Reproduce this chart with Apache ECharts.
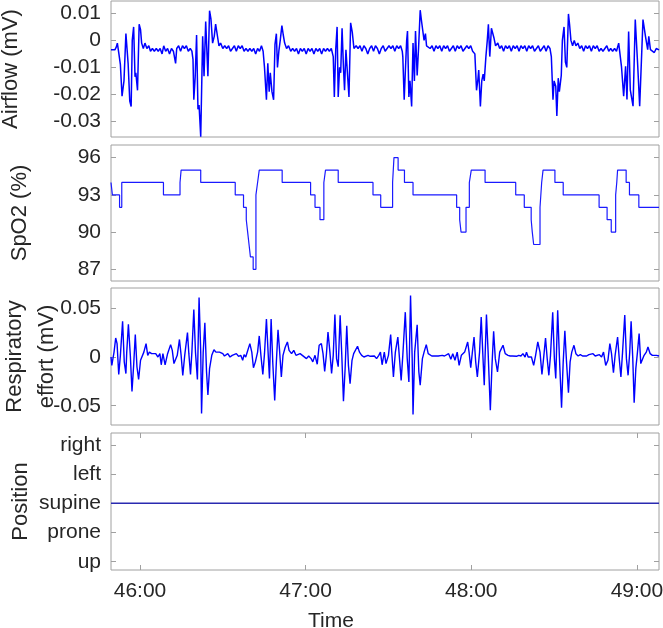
<!DOCTYPE html>
<html><head><meta charset="utf-8">
<script src="https://cdn.jsdelivr.net/npm/echarts@6/dist/echarts.min.js"></script>
<style>html,body{margin:0;padding:0;background:#fff}#c{width:663px;height:628px}</style>
</head><body><div id="c"></div>
<script>
// time in seconds since recording start; values in panel units
const airflow = [
[2749.5,-0.0035],[2750.2,-0.004],[2750.9,-0.0035],[2751.4,-0.0025],[2751.8,-0.001],[2752.3,-0.0045],[2752.9,-0.009],
[2753.5,-0.0207],[2754.2,-0.015],[2754.9,0.0025],[2755.7,-0.0085],[2756.3,-0.0225],[2756.8,-0.0245],[2757.2,0.0],
[2757.7,0.005],[2758.2,-0.0135],[2758.5,-0.012],[2759.1,-0.0185],[2759.7,0.006],[2760.2,0.004],[2760.6,-0.001],
[2761.2,-0.003],[2761.8,-0.001],[2762.5,-0.003],[2763.2,-0.002],[2763.8,-0.004],[2764.5,-0.003],[2765.2,-0.004],
[2765.9,-0.003],[2766.6,-0.004],[2767.3,-0.003],[2768.0,-0.005],[2768.6,-0.002],[2769.3,-0.004],[2770.0,-0.003],
[2770.7,-0.005],[2771.4,-0.003],[2772.1,-0.004],[2772.6,-0.0035],[2772.9,-0.0085],[2773.3,-0.003],[2774.0,-0.002],
[2774.7,-0.004],[2775.4,-0.002],[2776.1,-0.003],[2776.8,-0.002],[2777.5,-0.004],[2778.2,-0.003],[2778.8,-0.004],
[2779.2,-0.007],[2779.5,-0.022],[2780.0,-0.0135],[2780.5,0.002],[2781.0,-0.0255],[2781.4,-0.024],[2782.0,-0.0357],
[2782.7,0.0015],[2783.2,-0.0133],[2783.8,0.007],[2784.6,-0.0133],[2785.2,0.011],[2785.7,0.008],[2786.3,-0.001],
[2786.9,0.0015],[2787.4,0.006],[2788.0,0.002],[2788.6,-0.002],[2789.2,-0.001],[2790.0,-0.003],[2790.7,-0.002],
[2791.4,-0.003],[2792.1,-0.002],[2792.8,-0.004],[2793.5,-0.003],[2794.2,-0.002],[2794.9,-0.004],[2795.6,-0.002],
[2796.3,-0.003],[2797.0,-0.002],[2797.7,-0.004],[2798.4,-0.003],[2799.1,-0.004],[2799.8,-0.003],[2800.5,-0.004],
[2801.2,-0.003],[2801.9,-0.005],[2802.6,-0.003],[2803.3,-0.004],[2804.0,-0.002],[2804.6,-0.004],[2805.1,-0.01],
[2805.8,-0.022],[2806.3,-0.0085],[2806.8,-0.019],[2807.2,-0.012],[2807.8,-0.019],[2808.4,-0.022],[2808.9,-0.0015],
[2809.4,0.0025],[2809.8,-0.01],[2810.3,-0.004],[2810.8,0.0],[2811.4,0.0055],[2811.9,0.002],[2812.4,-0.001],
[2813.1,-0.003],[2813.8,-0.002],[2814.6,-0.004],[2815.3,-0.003],[2816.0,-0.004],[2816.7,-0.003],[2817.4,-0.005],
[2818.1,-0.003],[2818.8,-0.004],[2819.5,-0.003],[2820.2,-0.005],[2820.9,-0.003],[2821.6,-0.004],[2822.3,-0.003],
[2823.0,-0.005],[2823.7,-0.003],[2824.4,-0.004],[2825.1,-0.003],[2825.8,-0.005],[2826.5,-0.003],[2827.2,-0.004],
[2827.9,-0.003],[2828.6,-0.004],[2829.3,-0.003],[2830.0,-0.006],[2830.4,-0.021],[2830.9,-0.0035],[2831.4,0.005],
[2831.8,-0.021],[2832.3,-0.01],[2832.7,-0.012],[2833.2,0.0045],[2833.7,-0.01],[2834.1,-0.0185],[2834.6,-0.0035],
[2835.1,-0.003],[2835.7,-0.021],[2836.3,0.0065],[2836.9,0.003],[2837.5,-0.003],[2838.3,-0.002],[2839.0,-0.003],
[2839.7,-0.002],[2840.4,-0.004],[2841.1,-0.002],[2841.8,-0.003],[2842.5,-0.005],[2843.2,-0.003],[2843.9,-0.002],
[2844.6,-0.004],[2845.3,-0.002],[2846.0,-0.003],[2846.7,-0.005],[2847.4,-0.003],[2848.1,-0.002],[2848.8,-0.004],
[2849.5,-0.003],[2850.2,-0.002],[2850.9,-0.003],[2851.6,-0.002],[2852.3,-0.004],[2853.0,-0.002],[2853.7,-0.003],
[2854.4,-0.002],[2855.0,-0.004],[2855.2,-0.006],[2855.7,-0.022],[2856.1,-0.012],[2856.6,0.0],[2856.9,0.0035],
[2857.4,-0.021],[2857.8,-0.015],[2858.4,-0.0245],[2858.9,-0.001],[2859.4,-0.015],[2859.8,0.0035],[2860.4,-0.013],
[2860.9,-0.003],[2861.5,0.0112],[2862.0,0.007],[2862.4,0.0065],[2862.9,0.0],[2863.4,0.0025],[2863.8,-0.002],
[2864.4,-0.002],[2865.1,-0.003],[2865.8,-0.002],[2866.5,-0.004],[2867.2,-0.002],[2867.9,-0.003],[2868.6,-0.002],
[2869.3,-0.004],[2870.0,-0.002],[2870.7,-0.003],[2871.4,-0.002],[2872.1,-0.004],[2872.8,-0.003],[2873.5,-0.002],
[2874.2,-0.004],[2874.9,-0.002],[2875.6,-0.003],[2876.3,-0.002],[2877.0,-0.004],[2877.7,-0.003],[2878.4,-0.002],
[2879.1,-0.003],[2879.8,-0.002],[2880.5,-0.004],[2881.3,-0.005],[2881.9,-0.0185],[2882.4,-0.0145],[2882.7,-0.011],
[2883.3,-0.0245],[2883.8,-0.015],[2884.3,-0.0125],[2884.7,-0.015],[2885.3,-0.006],[2885.8,0.0],[2886.2,0.006],
[2886.7,-0.006],[2887.3,0.0045],[2887.8,0.0045],[2888.2,0.001],[2888.8,-0.002],[2889.6,-0.001],[2890.3,-0.003],
[2891.0,-0.002],[2891.7,-0.004],[2892.4,-0.002],[2893.1,-0.003],[2893.8,-0.002],[2894.5,-0.004],[2895.2,-0.002],
[2895.9,-0.003],[2896.6,-0.002],[2897.3,-0.004],[2898.0,-0.002],[2898.7,-0.003],[2899.4,-0.002],[2900.1,-0.004],
[2900.8,-0.002],[2901.5,-0.003],[2902.2,-0.002],[2902.9,-0.004],[2903.6,-0.003],[2904.3,-0.002],[2905.0,-0.004],
[2905.7,-0.003],[2906.4,-0.002],[2907.1,-0.004],[2907.8,-0.002],[2908.5,-0.003],[2909.0,-0.006],[2909.6,-0.022],
[2910.0,-0.015],[2910.6,-0.017],[2911.0,-0.028],[2911.5,-0.014],[2911.9,-0.019],[2912.6,-0.013],[2913.0,0.0],
[2913.6,0.005],[2914.1,-0.008],[2914.6,-0.01],[2915.2,0.0098],[2915.6,0.006],[2916.1,0.0],[2916.7,-0.002],
[2917.3,0.0],[2917.9,-0.002],[2918.6,-0.001],[2919.3,-0.003],[2920.0,-0.002],[2920.7,-0.004],[2921.4,-0.002],
[2922.1,-0.003],[2922.8,-0.002],[2923.5,-0.004],[2924.2,-0.002],[2924.9,-0.003],[2925.6,-0.002],[2926.3,-0.004],
[2927.0,-0.003],[2927.7,-0.004],[2928.4,-0.003],[2929.1,-0.002],[2929.8,-0.004],[2930.5,-0.003],[2931.2,-0.004],
[2931.9,-0.003],[2932.6,-0.004],[2933.4,-0.001],[2934.4,-0.0096],[2935.2,-0.0207],[2935.9,-0.0096],[2936.4,-0.0219],
[2937.0,0.0033],[2937.6,-0.0183],[2938.6,-0.0244],[2939.4,0.0077],[2940.3,-0.0096],[2941.0,-0.0244],[2942.2,0.0077],
[2943.1,0.0015],[2943.9,-0.0034],[2944.3,0.0015],[2944.9,-0.0034],[2945.5,-0.003],[2946.3,-0.0045],[2947.0,-0.003],
[2948.0,-0.0035]
];
const spo2 = [
[2749.5,94],[2750.0,93],[2752.6,92],[2753.4,94],[2768.5,93],[2774.5,94],[2774.9,95],[2782.0,94],[2794.5,93],
[2797.5,92],[2798.5,91],[2799.0,90],[2799.5,89],[2800.0,88],[2801.0,87],[2802.0,93],[2802.6,94],[2803.2,95],
[2811.5,94],[2821.8,93],[2823.4,92],[2825.2,91],[2826.6,94],[2827.2,95],[2831.8,94],[2844.4,93],[2847.2,92],
[2851.5,94],[2852.0,96],[2853.5,95],[2855.8,94],[2858.9,93],[2874.7,92],[2875.8,91],[2876.3,90],[2878.1,92],
[2879.3,94],[2880.0,95],[2885.0,94],[2896.1,93],[2899.2,92],[2901.7,91],[2902.1,90],[2902.6,89],[2904.9,92],
[2905.5,94],[2906.0,95],[2910.3,94],[2913.3,93],[2926.3,92],[2929.2,91],[2930.7,90],[2932.3,93],[2932.7,94],
[2933.0,95],[2936.1,94],[2937.3,93],[2940.7,92],[2948.0,92]
];
const effort = [
[2749.5,0.0],[2749.8,-0.0086],[2750.0,-0.005],[2750.6,0.005],[2751.2,0.0195],[2751.7,0.0137],[2752.3,-0.018],
[2752.9,0.0017],[2753.7,0.0366],[2754.3,-0.005],[2754.9,-0.017],[2755.2,0.005],[2755.8,0.0336],[2756.5,0.0017],
[2757.1,-0.0353],[2757.7,-0.0086],[2758.3,0.023],[2758.9,-0.010],[2759.5,-0.023],[2760.2,-0.0034],[2760.8,-0.0024],
[2761.4,0.005],[2762.2,0.0137],[2762.8,0.0017],[2763.4,0.005],[2764.2,0.0034],[2764.9,0.0017],[2765.7,0.0034],
[2766.5,0.0],[2767.2,0.0034],[2767.7,-0.008],[2768.3,0.0034],[2769.1,-0.008],[2770.0,0.0034],[2771.1,0.0127],
[2771.7,0.0068],[2772.3,-0.0068],[2772.9,-0.0086],[2773.5,0.0017],[2774.3,0.018],[2774.9,0.0017],[2775.5,-0.019],
[2776.2,0.0017],[2777.2,0.025],[2777.7,0.0034],[2778.3,-0.018],[2778.8,0.005],[2779.5,0.0486],[2780.1,0.005],
[2780.8,-0.023],[2781.4,0.061],[2782.0,0.005],[2782.3,-0.058],[2782.9,0.005],[2783.5,0.035],[2784.1,-0.015],
[2784.6,-0.039],[2785.2,-0.012],[2786.0,0.0017],[2786.8,0.0075],[2787.5,0.005],[2788.1,0.0068],[2788.8,0.005],
[2789.4,0.0034],[2790.0,0.0034],[2790.6,0.001],[2791.2,0.0],[2791.8,0.0034],[2792.6,0.0],[2793.4,0.0017],
[2794.1,0.0],[2794.9,0.0034],[2795.7,0.0007],[2796.5,0.0017],[2797.2,-0.0034],[2797.7,0.0024],[2798.3,0.0],
[2798.9,0.0007],[2799.8,0.0137],[2800.5,0.005],[2801.1,-0.011],[2801.8,-0.005],[2802.6,0.005],[2803.2,0.0216],
[2803.8,0.0017],[2804.5,-0.018],[2805.1,0.0034],[2805.8,0.039],[2806.4,0.005],[2806.9,-0.022],[2807.5,0.039],
[2808.1,-0.006],[2808.8,-0.0445],[2809.4,-0.005],[2810.0,0.028],[2810.6,0.005],[2811.2,-0.0205],[2811.8,0.0017],
[2812.6,0.010],[2813.4,0.0154],[2814.0,0.0068],[2814.9,0.0034],[2815.7,0.0068],[2816.5,0.0017],[2817.2,0.0017],
[2818.0,0.0034],[2818.8,0.0017],[2819.5,0.0017],[2820.3,-0.0017],[2821.1,0.001],[2822.0,-0.0017],[2822.6,-0.005],
[2823.4,0.0017],[2824.2,-0.0075],[2824.9,0.012],[2825.7,0.0137],[2826.3,0.0034],[2826.9,-0.0147],[2827.5,0.0017],
[2828.1,0.0257],[2828.8,0.005],[2829.4,-0.017],[2830.0,0.0017],[2830.6,0.0435],[2831.2,-0.0017],[2831.8,-0.010],
[2832.5,0.0428],[2833.1,0.0017],[2833.7,-0.0455],[2834.3,-0.012],[2834.9,0.032],[2835.5,-0.0086],[2836.1,-0.0274],
[2836.8,-0.0034],[2837.4,0.0034],[2838.0,0.0017],[2838.8,0.011],[2839.5,0.005],[2840.3,0.0017],[2841.1,0.0],
[2841.8,0.0007],[2842.6,0.0017],[2843.4,0.0007],[2844.1,0.0],[2844.9,0.001],[2845.7,-0.0017],[2846.5,0.0017],
[2847.1,0.005],[2847.7,-0.008],[2848.5,0.005],[2849.1,-0.0068],[2850.0,0.0017],[2850.8,0.023],[2851.2,0.005],
[2851.8,-0.0205],[2852.5,0.005],[2853.4,0.0205],[2854.0,-0.0017],[2854.6,-0.024],[2855.2,0.0017],[2856.1,0.046],
[2856.8,-0.0017],[2857.4,-0.0257],[2858.0,0.063],[2858.6,-0.0017],[2858.9,-0.059],[2859.5,0.005],[2860.4,0.033],
[2861.0,-0.015],[2861.5,-0.029],[2862.3,-0.0017],[2862.9,0.005],[2863.7,0.0127],[2864.4,0.0034],[2865.0,0.0017],
[2865.7,0.001],[2866.4,0.0007],[2867.2,0.001],[2868.0,0.001],[2868.7,0.001],[2869.5,0.0017],[2870.3,0.001],
[2871.0,0.0],[2871.8,0.0034],[2872.6,-0.0024],[2873.3,0.0034],[2874.1,-0.0034],[2874.9,0.005],[2875.6,-0.0086],
[2876.4,0.0017],[2877.6,0.005],[2878.7,0.0154],[2879.2,0.005],[2879.8,-0.011],[2880.4,0.005],[2881.0,0.0205],
[2881.6,-0.005],[2882.2,-0.0205],[2883.0,0.005],[2883.6,0.041],[2884.2,0.0017],[2884.7,-0.029],[2885.0,0.0],
[2885.5,0.0435],[2886.1,0.005],[2886.9,-0.0547],[2887.5,-0.0086],[2888.1,0.0263],[2888.7,-0.0017],[2889.5,-0.0154],
[2890.3,0.005],[2891.5,0.012],[2892.3,0.0034],[2893.3,0.0017],[2894.1,0.001],[2894.9,0.001],[2895.6,0.0017],
[2896.4,0.0007],[2897.2,0.0017],[2898.0,0.001],[2898.7,0.0034],[2899.5,0.0],[2900.0,0.005],[2900.6,0.0],
[2901.0,0.0017],[2901.8,0.0],[2902.6,-0.0086],[2903.3,0.0017],[2904.1,0.0154],[2904.9,0.005],[2905.6,-0.018],
[2906.3,0.0017],[2906.9,0.0195],[2907.5,-0.0017],[2908.1,-0.0188],[2908.7,0.0017],[2909.5,0.046],[2910.1,-0.0017],
[2910.6,-0.022],[2911.3,0.048],[2911.9,0.0017],[2912.7,-0.052],[2913.3,-0.005],[2913.9,0.027],[2914.5,-0.005],
[2915.2,-0.0366],[2915.8,-0.005],[2916.4,0.005],[2917.2,0.012],[2917.9,0.0034],[2918.7,0.001],[2919.5,0.0024],
[2920.3,0.001],[2921.0,0.0017],[2921.8,0.001],[2922.6,0.0024],[2923.3,0.001],[2924.1,0.0034],[2924.9,0.001],
[2925.6,0.0017],[2926.4,0.0024],[2927.2,0.0],[2927.9,0.005],[2928.7,-0.0086],[2929.5,-0.0034],[2930.2,0.0137],
[2930.8,0.0034],[2931.5,-0.016],[2932.1,0.0017],[2933.0,0.0205],[2933.6,-0.0017],[2934.2,-0.0205],[2934.8,0.005],
[2935.6,0.043],[2936.2,-0.0017],[2936.8,-0.0188],[2937.4,0.005],[2937.9,0.0366],[2938.5,-0.0017],[2939.0,-0.0469],
[2939.6,-0.012],[2940.2,0.005],[2940.8,0.024],[2941.4,-0.0068],[2942.0,-0.0086],[2942.6,0.0017],[2943.4,0.005],
[2944.0,0.0103],[2944.8,0.0034],[2945.6,0.0017],[2946.3,0.001],[2947.1,0.0017],[2947.7,0.0007],[2948.0,0.001]
];
const position = [[2749.5,3],[2948.0,3]];

const timeTicks = [2760, 2820, 2880, 2940];
const airflowTicks = [-0.03, -0.02, -0.01, 0, 0.01];
const spo2Ticks = [87, 90, 93, 96];
const effortTicks = [-0.05, 0, 0.05];
const positionTicks = [1, 2, 3, 4, 5];
const positionNames = ['up', 'prone', 'supine', 'left', 'right'];

const FONT = '"Liberation Sans", Arial, Helvetica, sans-serif';
const TXT = '#262626';
const BOX = '#a0a0a0';
const X_MIN = 2749.5, X_MAX = 2948.0;

const grids = [
  {left: 111, right: 4, top: 1, height: 136},
  {left: 111, right: 4, top: 145, height: 136},
  {left: 111, right: 4, top: 288, height: 137},
  {left: 111, right: 4, top: 433, height: 137}
].map(g => Object.assign(g, {show: true, borderColor: BOX, borderWidth: 1, backgroundColor: 'transparent',
  containLabel: false, outerBoundsMode: 'none'}));

function fmtTime(v) {
  const m = Math.floor(v / 60), s = Math.round(v - m * 60);
  return m + ':' + (s < 10 ? '0' : '') + s;
}
function fmtNum(v) { return String(parseFloat(Number(v).toFixed(4))); }

const panels = [
  {name: 'Airflow (mV)', min: -0.0358, max: 0.0146, ticks: airflowTicks, fmt: fmtNum, gap: 85, lh: 30},
  {name: 'SpO2 (%)', min: 86.06, max: 97.02, ticks: spo2Ticks, fmt: fmtNum, gap: 76, lh: 30},
  {name: 'Respiratory\neffort (mV)', min: -0.0698, max: 0.0708, ticks: effortTicks, fmt: fmtNum, gap: 48, lh: 32},
  {name: 'Position', min: 0.716, max: 5.41, ticks: positionTicks, fmt: v => positionNames[Math.round(v) - 1], gap: 75, lh: 30}
];

const xAxis = [], yAxis = [];
panels.forEach((p, i) => {
  const last = i === 3;
  xAxis.push({
    type: 'value', gridIndex: i, min: X_MIN, max: X_MAX, position: 'bottom',
    axisLine: {show: false}, splitLine: {show: false},
    axisTick: {show: last, inside: true, length: 5, lineStyle: {color: BOX}, customValues: timeTicks},
    axisLabel: {show: last, customValues: timeTicks, formatter: fmtTime, color: TXT, fontSize: 21, fontFamily: FONT, margin: 11},
    name: last ? 'Time' : '', nameLocation: 'middle', nameGap: 41, nameMoveOverlap: false,
    nameTextStyle: {color: TXT, fontSize: 21, fontFamily: FONT, padding: [0, 108, 0, 0]}
  });
  yAxis.push({
    type: 'value', gridIndex: i, min: p.min, max: p.max, position: 'left',
    axisLine: {show: false}, splitLine: {show: false},
    axisTick: {show: true, inside: true, length: 5, lineStyle: {color: BOX}, customValues: p.ticks},
    axisLabel: {customValues: p.ticks, formatter: p.fmt, color: TXT, fontSize: 21, fontFamily: FONT, margin: 10},
    name: p.name, nameLocation: 'middle', nameGap: p.gap, nameMoveOverlap: false,
    nameTextStyle: {color: TXT, fontSize: 22, fontFamily: FONT, lineHeight: p.lh}
  });
  yAxis.push({
    type: 'value', gridIndex: i, min: p.min, max: p.max, position: 'right',
    axisLine: {show: false}, splitLine: {show: false},
    axisTick: {show: true, inside: true, length: 5, lineStyle: {color: BOX}, customValues: p.ticks},
    axisLabel: {show: false}
  });
});
// top ticks on the bottom panel
xAxis.push({
  type: 'value', gridIndex: 3, min: X_MIN, max: X_MAX, position: 'top',
  axisLine: {show: false}, splitLine: {show: false},
  axisTick: {show: true, inside: true, length: 5, lineStyle: {color: BOX}, customValues: timeTicks},
  axisLabel: {show: false}
});

const lineBase = {type: 'line', showSymbol: false, symbol: 'none', animation: false};
const option = {
  animation: false,
  grid: grids,
  xAxis: xAxis,
  yAxis: yAxis,
  series: [
    Object.assign({}, lineBase, {name: 'Airflow', xAxisIndex: 0, yAxisIndex: 0, data: airflow, lineStyle: {color: '#0000ff', width: 1.5}}),
    Object.assign({}, lineBase, {name: 'SpO2', xAxisIndex: 1, yAxisIndex: 2, data: spo2, step: 'end', lineStyle: {color: '#1a1aff', width: 1.2}}),
    Object.assign({}, lineBase, {name: 'Respiratory effort', xAxisIndex: 2, yAxisIndex: 4, data: effort, lineStyle: {color: '#0000ff', width: 1.4}}),
    Object.assign({}, lineBase, {name: 'Position', xAxisIndex: 3, yAxisIndex: 6, data: position, lineStyle: {color: '#2a2ab0', width: 1.5}})
  ]
};
const chart = echarts.init(document.getElementById('c'), null, {renderer: 'canvas'});
chart.setOption(option);
</script>
</body></html>
